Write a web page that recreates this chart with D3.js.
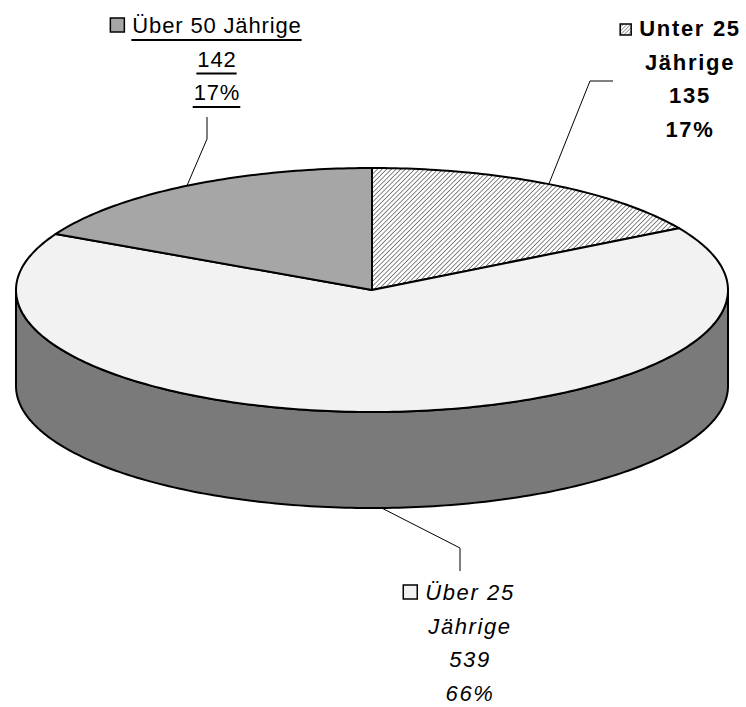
<!DOCTYPE html>
<html>
<head>
<meta charset="utf-8">
<script src="https://cdn.jsdelivr.net/npm/d3@7"></script>
<style>
  html, body { margin: 0; padding: 0; background: #fff; }
  svg { display: block; font-family: "Liberation Sans", Arial, sans-serif; }
</style>
</head>
<body>
<svg id="chart" width="746" height="707"></svg>
<script>
// chart data
var categories = ["Unter 25 Jährige", "Über 25 Jährige", "Über 50 Jährige"];
var values = [135, 539, 142];
var labelLines = [["Unter 25", "Jährige"], ["Über 25", "Jährige"], ["Über 50 Jährige"]];

var width = 746, height = 707;
var cx = 372, cy = 290, rx = 356, ry = 122, depth = 96;

var topColors = ["url(#hatch)", "#f2f2f2", "#a6a6a6"];
var sideColor = "#7a7a7a";
var keyColors = ["url(#hatchSmall)", "#f2f2f2", "#a6a6a6"];

// label styling / placement (centre x, first baseline)
var labelStyle = [
  {x: 690, y: 36, weight: "bold", style: "normal", spacing: 1.7, underline: false, key: 11,
   elbow: [[590, 81], [613, 81]]},
  {x: 470, y: 600, weight: "normal", style: "italic", spacing: 1.6, underline: false, key: 14,
   elbow: [[460, 548], [460, 571]]},
  {x: 217, y: 33, weight: "normal", style: "normal", spacing: 0.85, underline: true, key: 14,
   elbow: [[207, 139], [207, 117]]}
];
var lineHeight = 33.5;

var svg = d3.select("#chart");

var defs = svg.append("defs");
function hatch(id, size, w) {
  var p = defs.append("pattern")
    .attr("id", id)
    .attr("patternUnits", "userSpaceOnUse")
    .attr("width", size)
    .attr("height", size)
    .attr("patternTransform", "rotate(45)");
  p.append("rect").attr("width", size).attr("height", size).attr("fill", "#fff");
  p.append("line")
    .attr("x1", 0).attr("y1", 0).attr("x2", 0).attr("y2", size)
    .attr("stroke", "#555")
    .attr("stroke-width", w);
}
hatch("hatch", 3.3, 1.4);
hatch("hatchSmall", 2.6, 1.1);

var total = d3.sum(values);
var fmtPct = d3.format(".0%");

var pie = d3.pie().sort(null).value(function(d) { return d; });
var arcs = pie(values);

var pt = function(a, dy) {
  return [cx + rx * Math.sin(a), cy - ry * Math.cos(a) + (dy || 0)];
};

var arcPoints = function(a0, a1, dy) {
  var n = Math.max(2, Math.ceil(Math.abs(a1 - a0) * 60));
  return d3.range(n + 1).map(function(i) { return pt(a0 + (a1 - a0) * i / n, dy); });
};

var line = d3.line();

// side walls (only the front half is visible)
var sides = svg.append("g");
arcs.forEach(function(d, i) {
  var a0 = Math.max(d.startAngle, Math.PI / 2);
  var a1 = Math.min(d.endAngle, Math.PI * 3 / 2);
  if(a1 <= a0) { return; }
  var pts = arcPoints(a0, a1, 0).concat(arcPoints(a1, a0, depth));
  sides.append("path")
    .attr("d", line(pts) + "Z")
    .attr("fill", sideColor)
    .attr("stroke", "#000")
    .attr("stroke-width", 2)
    .attr("stroke-linejoin", "round");
});

// top faces
var tops = svg.append("g");
arcs.forEach(function(d, i) {
  var pts = [[cx, cy]].concat(arcPoints(d.startAngle, d.endAngle, 0));
  tops.append("path")
    .attr("d", line(pts) + "Z")
    .attr("fill", topColors[i])
    .attr("stroke", "#000")
    .attr("stroke-width", 2)
    .attr("stroke-linejoin", "round");
});

// leader lines, starting on the rim at the slice middle
var leaders = svg.append("g");
arcs.forEach(function(d, i) {
  var mid = (d.startAngle + d.endAngle) / 2;
  var front = Math.cos(mid) < 0;
  var start = pt(mid, front ? depth : 0);
  leaders.append("path")
    .attr("d", line([start].concat(labelStyle[i].elbow)))
    .attr("fill", "none")
    .attr("stroke", "#000")
    .attr("stroke-width", 1);
});

// labels
var labels = svg.append("g");
arcs.forEach(function(d, i) {
  var s = labelStyle[i];
  var lines = labelLines[i].concat([String(d.value), fmtPct(d.value / total)]);
  var g = labels.append("g");
  lines.forEach(function(txt, j) {
    var t = g.append("text")
      .attr("x", s.x)
      .attr("y", s.y + j * lineHeight)
      .attr("text-anchor", "middle")
      .attr("font-size", 22)
      .attr("font-weight", s.weight)
      .attr("font-style", s.style)
      .attr("letter-spacing", s.spacing)
      .attr("fill", "#000")
      .text(txt);
    if(s.underline) {
      var b = t.node().getBBox();
      g.append("line")
        .attr("x1", b.x - 1).attr("x2", b.x + b.width)
        .attr("y1", s.y + j * lineHeight + 7).attr("y2", s.y + j * lineHeight + 7)
        .attr("stroke", "#000")
        .attr("stroke-width", 2);
    }
  });
  // legend key square before the first line
  var first = g.select("text").node().getBBox();
  g.append("rect")
    .attr("x", first.x - s.key - 8)
    .attr("y", s.y - s.key - 1)
    .attr("width", s.key)
    .attr("height", s.key)
    .attr("fill", keyColors[i])
    .attr("stroke", "#000")
    .attr("stroke-width", 1.5);
});
</script>
</body>
</html>
